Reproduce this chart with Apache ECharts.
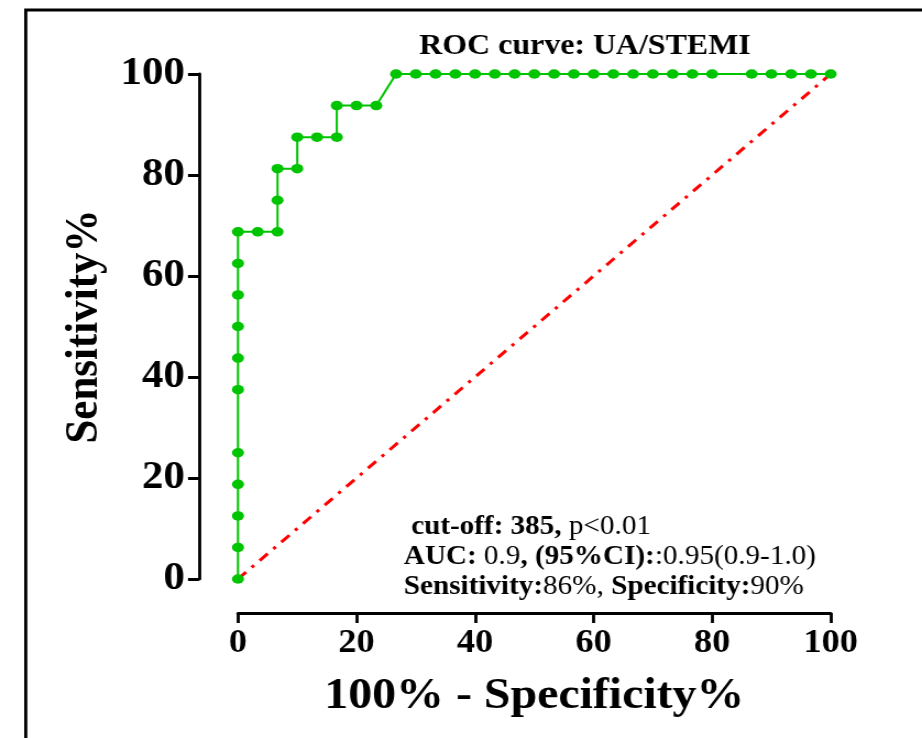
<!DOCTYPE html>
<html>
<head>
<meta charset="utf-8">
<script src="https://cdn.jsdelivr.net/npm/echarts@6/dist/echarts.min.js"></script>
<style>
html,body{margin:0;padding:0;background:#fff;overflow:hidden;}
#wrap{width:838px;height:738px;transform:scaleX(1.10024);transform-origin:0 0;}
</style>
</head>
<body>
<div id="wrap"></div>
<script>
// ROC curve points: 100% - Specificity% (x) and Sensitivity% (y)
var fpr = [0,0,0,0,0,0,0,0,0,0,0,
  3.33,6.67,6.67,6.67,10,10,13.33,16.67,16.67,20,23.33,
  26.67,30,33.33,36.67,40,43.33,46.67,50,53.33,56.67,60,63.33,66.67,70,73.33,76.67,80,
  86.67,90,93.33,96.67,100];
var tpr = [0,6.25,12.5,18.75,25,37.5,43.75,50,56.25,62.5,68.75,
  68.75,68.75,75,81.25,81.25,87.5,87.5,87.5,93.75,93.75,93.75,
  100,100,100,100,100,100,100,100,100,100,100,100,100,100,100,100,100,
  100,100,100,100,100];
// Reference (chance) line
var refX = [0,100];
var refY = [0,100];
var xTicks = [0,20,40,60,80,100];
var yTicks = [0,20,40,60,80,100];
var titleText = 'ROC curve: UA/STEMI';
var xName = '100% - Specificity%';
var yName = 'Sensitivity%';

var FONT = "'Liberation Serif','Times New Roman',serif";
var rocData = fpr.map(function(v,i){return [v,tpr[i]];});
var refData = refX.map(function(v,i){return [v,refY[i]];});

var chart = echarts.init(document.getElementById('wrap'), null, {renderer:'canvas'});
var rs = function(w){return {fontFamily:FONT,fontSize:26.5,lineHeight:30,fontWeight:w,color:'#000'};};
chart.setOption({
  animation:false,
  backgroundColor:'#fff',
  grid:{left:216.3,right:83,top:74,bottom:159,containLabel:false,outerBoundsMode:'none'},
  title:[{
    left:362, top:507,
    text:'{b| cut-off: 385,}{n| p<0.01}\n{b|AUC:}{n| 0.9}{b|, (95%CI):}{n|:0.95(0.9-1.0)}\n{b|Sensitivity:}{n|86%, }{b|Specificity:}{n|90%}',
    textStyle:{fontFamily:FONT,fontSize:26.5,lineHeight:30,rich:{b:rs('bold'),n:rs('normal')}}
  }],
  graphic:[
    {type:'rect',left:20.9,top:7.5,shape:{width:900,height:900},style:{fill:'none',stroke:'#000',lineWidth:2.8},silent:true},
    {type:'text',x:531.7,y:47,style:{text:titleText,fontFamily:FONT,fontSize:29,fontWeight:'bold',fill:'#000',align:'center',verticalAlign:'middle'}}
  ],
  xAxis:{
    type:'value',min:0,max:100,interval:20,
    offset:34,
    name:xName,nameLocation:'middle',nameGap:62,
    nameTextStyle:{fontFamily:FONT,fontSize:43.5,fontWeight:'bold',color:'#000',verticalAlign:'top'},
    axisLine:{show:true,onZero:false,lineStyle:{color:'#000',width:3}},
    axisTick:{show:true,length:10,lineStyle:{color:'#000',width:2.8}},
    axisLabel:{margin:14,fontFamily:FONT,fontSize:33,fontWeight:'bold',color:'#000',
      formatter:function(v){return xTicks.indexOf(v)>=0?String(v):'';}},
    splitLine:{show:false}
  },
  yAxis:{
    type:'value',min:0,max:100,interval:20,
    offset:35.4,
    name:yName,nameLocation:'middle',nameGap:70,nameRotate:90,
    nameTextStyle:{fontFamily:FONT,fontSize:43,fontWeight:'bold',color:'#000'},
    axisLine:{show:true,onZero:false,lineStyle:{color:'#000',width:2.8}},
    axisTick:{show:true,length:10,lineStyle:{color:'#000',width:3}},
    axisLabel:{margin:12.8,fontFamily:FONT,fontSize:39,fontWeight:'bold',color:'#000',
      formatter:function(v){return yTicks.indexOf(v)>=0?String(v):'';}},
    splitLine:{show:false}
  },
  series:[
    {type:'line',data:refData,symbol:'none',silent:true,
      lineStyle:{color:'#ff0000',width:3,type:[10,7,3,7]}},
    {type:'line',data:rocData,symbol:'circle',symbolSize:[11,9.5],silent:true,
      itemStyle:{color:'#00c400'},lineStyle:{color:'#00c400',width:2}}
  ]
});
</script>
</body>
</html>
